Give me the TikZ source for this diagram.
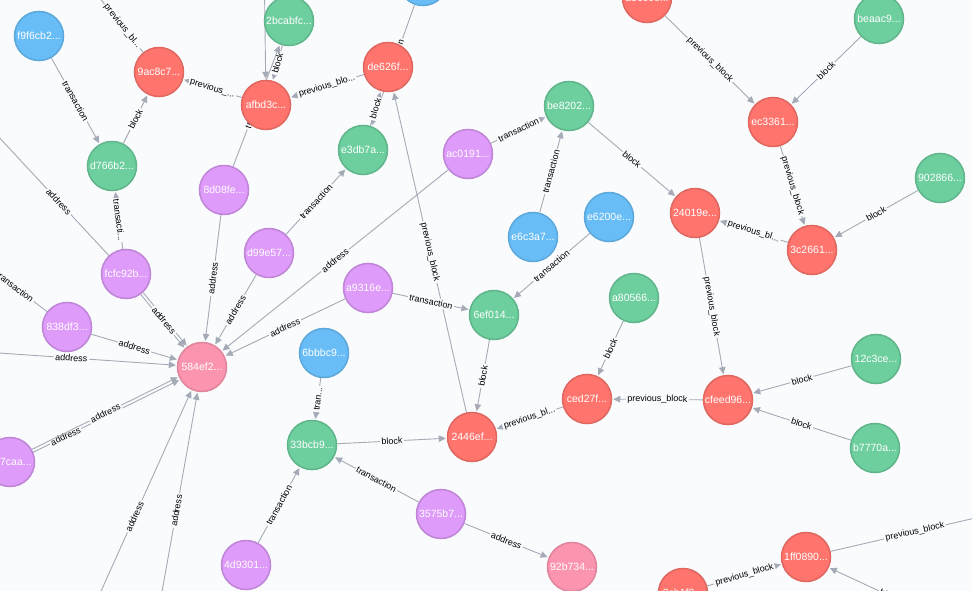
\documentclass[tikz,border=0pt]{standalone}
\usepackage{fontspec}
\setmainfont{Liberation Sans}
\usetikzlibrary{arrows.meta}
\definecolor{bgcol}{HTML}{F9FBFD}
\definecolor{edgecol}{HTML}{A5ABB6}
\definecolor{redfill}{HTML}{FF756E}\definecolor{redline}{HTML}{E06760}
\definecolor{greenfill}{HTML}{6DCE9E}\definecolor{greenline}{HTML}{60B58B}
\definecolor{bluefill}{HTML}{68BDF6}\definecolor{blueline}{HTML}{5CA8DB}
\definecolor{purplefill}{HTML}{DE9BF9}\definecolor{purpleline}{HTML}{BF85D6}
\definecolor{pinkfill}{HTML}{FB95AF}\definecolor{pinkline}{HTML}{E0849B}
\pgfdeclarelayer{bglayer}
\pgfdeclarelayer{edgelayer}
\pgfsetlayers{bglayer,edgelayer,main}
\begin{document}
\begin{tikzpicture}[x=1pt,y=-1pt,
  gnode/.style={circle, minimum size=49pt, inner sep=0pt, line width=1.5pt, text=white,
    font=\fontsize{10.5}{12}\selectfont},
  rednode/.style={gnode, fill=redfill, draw=redline},
  greennode/.style={gnode, fill=greenfill, draw=greenline},
  bluenode/.style={gnode, fill=bluefill, draw=blueline},
  purplenode/.style={gnode, fill=purplefill, draw=purpleline},
  pinknode/.style={gnode, fill=pinkfill, draw=pinkline},
  edge/.style={draw=edgecol, line width=0.9pt, -{Triangle[length=7pt,width=6.5pt]}, shorten >=1pt},
  lbl/.style={sloped, fill=bgcol, inner sep=1.5pt, text=black, font=\fontsize{9}{10}\selectfont},
]
\begin{pgfonlayer}{bglayer}
\fill[bgcol] (0,0) rectangle (972,591);
\end{pgfonlayer}
\useasboundingbox (0,0) rectangle (972,591);

% nodes
\node[bluenode]   (f9f)  at (39,36)   {f9f6cb2...};
\node[rednode]    (n9ac) at (159,72)  {9ac8c7...};
\node[rednode]    (afb)  at (266,105) {afbd3c...};
\node[greennode]  (bca)  at (289,21)  {2bcabfc...};
\node[rednode]    (de6)  at (388,67)  {de626f...};
\node[bluenode]   (tpb)  at (423,-19) {};
\node[rednode]    (tpr)  at (647,-2)  {ae6c6e...};
\node[greennode]  (bea)  at (879,19)  {beaac9...};
\node[rednode]    (ec3)  at (773,122) {ec3361...};
\node[greennode]  (s902) at (940,178) {902866...};
\node[rednode]    (c26)  at (812,250) {3c2661...};
\node[rednode]    (s240) at (695,213) {24019e...};
\node[greennode]  (be8)  at (569,106) {be8202...};
\node[purplenode] (ac0)  at (468,154) {ac0191...};
\node[greennode]  (e3d)  at (363,150) {e3db7a...};
\node[greennode]  (d76)  at (112,166) {d766b2...};
\node[purplenode] (d08)  at (224,190) {8d08fe...};
\node[purplenode] (d99)  at (269,253) {d99e57...};
\node[purplenode] (fcf)  at (126,274) {fcfc92b...};
\node[purplenode] (d38)  at (67,327)  {838df3...};
\node[pinknode]   (a584) at (202,367) {584ef2...};
\node[purplenode] (a93)  at (368,288) {a9316e...};
\node[bluenode]   (e6c)  at (533,237) {e6c3a7...};
\node[bluenode]   (e62)  at (609,217) {e6200e...};
\node[greennode]  (ef6)  at (494,315) {6ef014...};
\node[greennode]  (a80)  at (634,298) {a80566...};
\node[rednode]    (ced)  at (587,399) {ced27f...};
\node[rednode]    (cfe)  at (728,400) {cfeed96...};
\node[greennode]  (c12)  at (876,359) {12c3ce...};
\node[greennode]  (b77)  at (875,448) {b7770a...};
\node[bluenode]   (bbb)  at (324,353) {6bbbc9...};
\node[greennode]  (bcb)  at (312,445) {33bcb9...};
\node[rednode]    (s244) at (472,437) {2446ef...};
\node[purplenode] (s357) at (441,514) {3575b7...};
\node[pinknode]   (b92)  at (572,567) {92b734...};
\node[purplenode] (d93)  at (246,565) {4d9301...};
\node[purplenode] (caa)  at (10,462)  {b37caa...};
\node[rednode]    (r1ff) at (806,557) {1ff0890...};
\node[rednode]    (bred) at (683,593) {2cb1f0...};

% off-canvas ends
\coordinate (o1) at (78,-29);
\coordinate (o2) at (264,-50);
\coordinate (o3) at (-30,106);
\coordinate (o4) at (-37,247);
\coordinate (o5) at (-30,351);
\coordinate (o6) at (88,620);
\coordinate (o7) at (157,620);
\coordinate (o8) at (1010,510);
\coordinate (o9) at (974,635);

\begin{pgfonlayer}{edgelayer}
\draw[edge] (f9f) -- node[lbl]{transaction} (d76);
\draw[edge] (d76) -- node[lbl]{block} (n9ac);
\draw[edge] (afb) -- node[lbl]{previous\_...} (n9ac);
\draw[edge] (n9ac) -- node[lbl,pos=0.32]{previous\_bl...} (o1);
\draw[edge] (o2) -- node[lbl,pos=0.33]{bl} (afb);
\draw[edge] (bca) -- node[lbl]{block} (afb);
\draw[edge] (d08) -- node[lbl,pos=0.3,anchor=west]{tr} (bca);
\draw[edge] (de6) -- node[lbl]{previous\_blo...} (afb);
\draw[edge] (tpb) -- node[lbl,pos=0.31]{n} (e3d);
\draw[edge] (e3d) -- node[lbl]{block} (de6);
\draw[edge] (s244) -- node[lbl]{previous\_block} (de6);
\draw[edge] (d99) -- node[lbl]{transaction} (e3d);
\draw[edge] (ac0) -- node[lbl]{transaction} (be8);
\draw[edge] (ac0) -- node[lbl]{address} (a584);
\draw[edge] (e6c) -- node[lbl]{transaction} (be8);
\draw[edge] (be8) -- node[lbl]{block} (s240);
\draw[edge] (c26) -- node[lbl]{previous\_bl...} (s240);
\draw[edge] (ec3) -- node[lbl]{previous\_block} (c26);
\draw[edge] (tpr) -- node[lbl]{previous\_block} (ec3);
\draw[edge] (bea) -- node[lbl]{block} (ec3);
\draw[edge] (s902) -- node[lbl]{block} (c26);
\draw[edge] (s240) -- node[lbl]{previous\_block} (cfe);
\draw[edge] (cfe) -- node[lbl]{previous\_block} (ced);
\draw[edge] (c12) -- node[lbl]{block} (cfe);
\draw[edge] (b77) -- node[lbl]{block} (cfe);
\draw[edge] (a80) -- node[lbl]{block} (ced);
\draw[edge] (ced) -- node[lbl]{previous\_bl...} (s244);
\draw[edge] (ef6) -- node[lbl]{block} (s244);
\draw[edge] (e62) -- node[lbl]{transaction} (ef6);
\draw[edge] (a93) -- node[lbl]{transaction} (ef6);
\draw[edge] (a93) -- node[lbl]{address} (a584);
\draw[edge] (bcb) -- node[lbl]{block} (s244);
\draw[edge] (bbb) -- node[lbl]{tran...} (bcb);
\draw[edge] (s357) -- node[lbl]{transaction} (bcb);
\draw[edge] (s357) -- node[lbl]{address} (b92);
\draw[edge] (d93) -- node[lbl]{transaction} (bcb);
\draw[edge] (d08) -- node[lbl]{address} (a584);
\draw[edge] (d99) -- node[lbl]{address} (a584);
\draw[edge, transform canvas={shift={(1.2,-0.95)}}] (fcf) -- (a584);
\draw[edge, transform canvas={shift={(-1.2,0.95)}}] (fcf) -- (a584);
\path (fcf) -- node[lbl]{address} (a584);
\draw[edge] (fcf) -- node[lbl]{transacti...} (d76);
\draw[edge] (fcf) -- node[lbl,pos=0.36]{address} (o3);
\draw[edge] (d38) -- node[lbl,pos=0.38]{transaction} (o4);
\draw[edge] (d38) -- node[lbl]{address} (a584);
\draw[edge] (o5) -- node[lbl,pos=0.49]{address} (a584);
\draw[edge, transform canvas={shift={(0.7,1.4)}}] (caa) -- node[lbl,pos=0.22]{address} (a584);
\draw[edge, transform canvas={shift={(-0.7,-1.4)}}] (caa) -- node[lbl,pos=0.5]{address} (a584);
\draw[edge] (o6) -- node[lbl,pos=0.45]{address} (a584);
\draw[edge] (o7) -- node[lbl,pos=0.48]{address} (a584);
\draw[edge] (r1ff) -- node[lbl,pos=0.47]{previous\_block} (o8);
\draw[edge] (bred) -- node[lbl]{previous\_block} (r1ff);
\draw[edge] (o9) -- node[lbl,pos=0.58]{block} (r1ff);
\end{pgfonlayer}
\end{tikzpicture}
\end{document}
